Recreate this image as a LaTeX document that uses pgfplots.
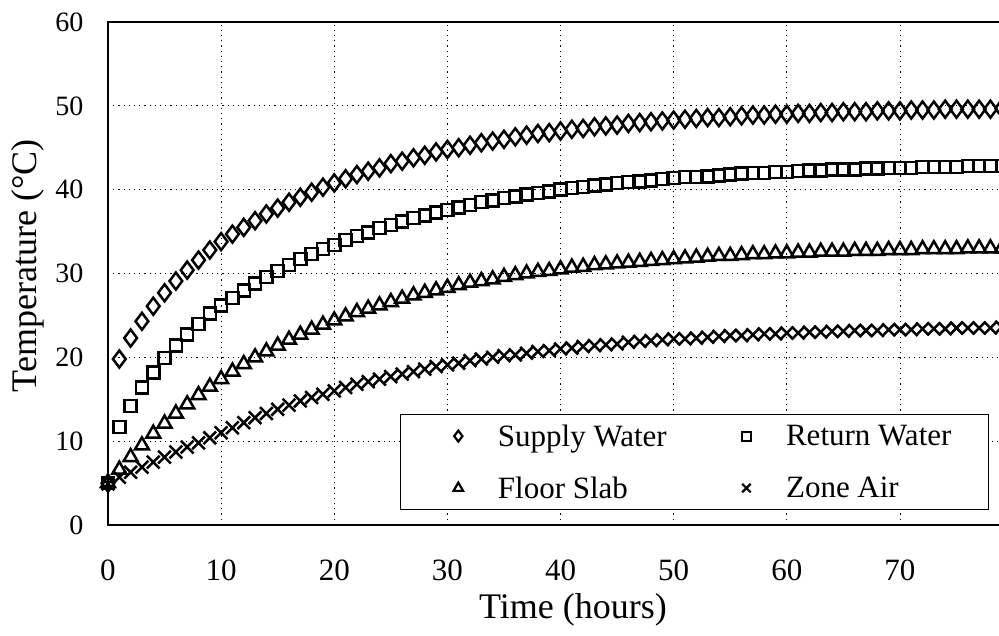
\documentclass[border=0pt]{standalone}
\usepackage{fontspec}
\setmainfont{Liberation Serif}
\usepackage{pgfplots}
\usepackage{pgfplotstable}
\pgfplotsset{compat=1.18}

\pgfplotstableread{
t S R T Z
0 5.0 5.0 5.0 4.9
1 19.8 11.7 6.6 5.7
2 22.3 14.2 8.1 6.3
3 24.3 16.4 9.5 6.9
4 26.1 18.2 10.9 7.5
5 27.7 19.9 12.1 8.1
6 29.1 21.4 13.3 8.7
7 30.4 22.7 14.4 9.3
8 31.6 24.0 15.5 9.8
9 32.8 25.2 16.5 10.4
10 33.8 26.2 17.4 11.0
11 34.7 27.1 18.3 11.6
12 35.5 28.0 19.2 12.2
13 36.3 28.8 20.0 12.8
14 37.1 29.6 20.7 13.3
15 37.8 30.3 21.4 13.8
16 38.5 31.0 22.1 14.3
17 39.1 31.7 22.7 14.8
18 39.7 32.3 23.3 15.2
19 40.3 32.9 23.9 15.6
20 40.8 33.4 24.4 16.0
21 41.3 34.0 24.9 16.4
22 41.8 34.5 25.4 16.8
23 42.2 34.9 25.8 17.1
24 42.6 35.4 26.2 17.4
25 43.1 35.8 26.6 17.7
26 43.4 36.2 27.0 18.0
27 43.8 36.6 27.4 18.3
28 44.1 36.9 27.7 18.6
29 44.5 37.3 28.0 18.9
30 44.8 37.6 28.3 19.1
31 45.0 37.9 28.6 19.3
32 45.3 38.2 28.9 19.6
33 45.6 38.5 29.1 19.8
34 45.8 38.7 29.3 20.0
35 46.0 39.0 29.6 20.2
36 46.3 39.2 29.8 20.3
37 46.5 39.4 30.0 20.5
38 46.7 39.6 30.2 20.7
39 46.8 39.8 30.3 20.8
40 47.0 40.0 30.5 21.0
41 47.2 40.2 30.7 21.1
42 47.3 40.3 30.8 21.3
43 47.5 40.5 31.0 21.4
44 47.6 40.6 31.1 21.5
45 47.7 40.8 31.2 21.6
46 47.9 40.9 31.3 21.8
47 48.0 41.0 31.4 21.9
48 48.1 41.1 31.5 22.0
49 48.2 41.3 31.6 22.1
50 48.3 41.4 31.7 22.2
51 48.4 41.5 31.8 22.2
52 48.5 41.5 31.9 22.3
53 48.6 41.6 32.0 22.4
54 48.6 41.7 32.1 22.5
55 48.7 41.8 32.1 22.6
56 48.8 41.9 32.2 22.6
57 48.9 42.0 32.3 22.7
58 48.9 42.0 32.3 22.8
59 49.0 42.1 32.4 22.8
60 49.0 42.1 32.4 22.9
61 49.1 42.2 32.5 22.9
62 49.1 42.3 32.5 23.0
63 49.2 42.3 32.6 23.0
64 49.2 42.4 32.6 23.1
65 49.3 42.4 32.6 23.1
66 49.3 42.4 32.7 23.2
67 49.3 42.5 32.7 23.2
68 49.4 42.5 32.7 23.2
69 49.4 42.6 32.8 23.3
70 49.4 42.6 32.8 23.3
71 49.5 42.6 32.8 23.3
72 49.5 42.7 32.9 23.4
73 49.5 42.7 32.9 23.4
74 49.6 42.7 32.9 23.4
75 49.6 42.7 32.9 23.5
76 49.6 42.8 33.0 23.5
77 49.6 42.8 33.0 23.5
78 49.6 42.8 33.0 23.5
79 49.7 42.8 33.0 23.6
}\datatable

\begin{document}
\begin{tikzpicture}
\begin{axis}[
  scale only axis,
  width=896bp, height=503bp,
  xmin=0, xmax=79.2, ymin=0, ymax=60,
  xtick={0,10,...,70}, ytick={0,10,...,60},
  major tick length=0pt,
  /pgf/number format/assume math mode=true,
  xticklabel style={font=\fontsize{31bp}{35bp}\selectfont},
  yticklabel style={font=\fontsize{28bp}{32bp}\selectfont},
  xticklabel shift=31bp,
  yticklabel shift=21bp,
  axis line style={black, line width=1.8bp},
  grid=major,
  major grid style={black, line width=0.8bp, dash pattern=on 1.2bp off 4bp},
  xlabel={Time (hours)},
  ylabel={Temperature (°C)},
  x label style={font=\fontsize{36bp}{40bp}\selectfont, at={(axis description cs:0.519,-0.168)}, anchor=center},
  y label style={font=\fontsize{36bp}{40bp}\selectfont, at={(axis description cs:-0.09,0.515)}, anchor=center},
  legend columns=2,
  legend cell align=left,
  legend image code/.code={\path (-36bp,0bp) (37bp,0bp); \draw[#1] plot coordinates {(0bp,0bp)};},
  legend style={at={(rel axis cs:0.3259,0.2207)}, anchor=north west,
    draw=black, line width=1.3bp, fill=white,
    font=\fontsize{31bp}{35bp}\selectfont,
    inner xsep=21bp, inner ysep=8bp, row sep=25bp,
    /tikz/every even column/.append style={column sep=41bp}},
]
\coordinate (O) at (rel axis cs:0,0);
\addplot[only marks, black, mark=diamond, mark size=8.5bp, mark options={solid, black, fill=none, line width=2.5bp},
  legend image post style={mark size=5.5bp, mark options={solid, black, fill=none, line width=2.2bp}}] table[x=t,y=S] {\datatable};
\addlegendentry{Supply Water}
\addplot[only marks, black, mark=square, mark size=6bp, mark options={solid, black, fill=none, line width=2.5bp},
  legend image post style={mark size=4.5bp, mark options={solid, black, fill=none, line width=2.2bp}}] table[x=t,y=R] {\datatable};
\addlegendentry{Return Water\rule{14bp}{0pt}}
\addplot[only marks, black, mark=triangle, mark size=8bp, mark options={solid, black, fill=none, line width=2.5bp},
  legend image post style={mark size=5.5bp, mark options={solid, black, fill=none, line width=2.2bp}}] table[x=t,y=T] {\datatable};
\addlegendentry{Floor Slab}
\addplot[only marks, black, mark=x, mark size=9bp, mark options={solid, black, fill=none, line width=2.5bp},
  legend image post style={mark size=6bp, mark options={solid, black, fill=none, line width=2.2bp}}] table[x=t,y=Z] {\datatable};
\addlegendentry{Zone Air}
\end{axis}
\pgfresetboundingbox
\path[use as bounding box] ([xshift=-108bp,yshift=-111bp]O) rectangle ++(999bp,636bp);
\end{tikzpicture}
\end{document}
